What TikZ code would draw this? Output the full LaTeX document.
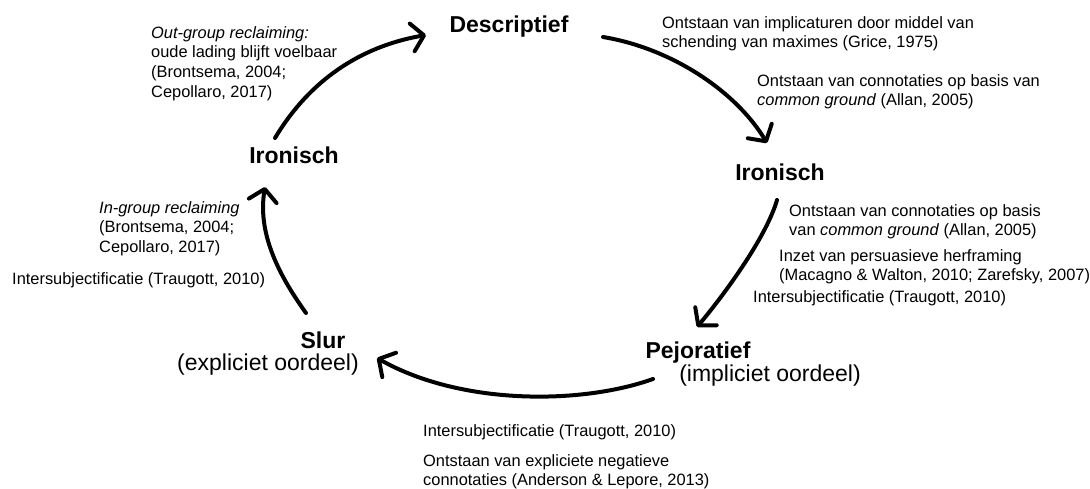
\documentclass[tikz,border=0pt]{standalone}
\usepackage{fontspec}
\setmainfont{Liberation Sans}
\usetikzlibrary{arrows.meta}
\begin{document}
\begin{tikzpicture}[x=1pt,y=-1pt,
  txt/.style={font=\fontsize{16.4}{19.7}\selectfont, align=left, anchor=north west, inner sep=0pt},
  lbl/.style={font=\fontsize{23}{27}\selectfont\bfseries, anchor=base, inner sep=0pt},
  sublbl/.style={font=\fontsize{23}{27}\selectfont, anchor=base, inner sep=0pt},
  arr/.style={line width=4pt, line cap=round, line join=round,
    -{Straight Barb[length=12pt,width=28pt,round]}}]
\useasboundingbox (0,0) rectangle (1090,488);

% main labels
\node[lbl] (desc) at (509,32) {Descriptief};
\node[lbl] (ironL) at (294,163) {Ironisch};
\node[lbl] (ironR) at (780,180) {Ironisch};
\node[lbl] (pej) at (698,358) {Pejoratief};
\node[sublbl] (pejsub) at (770,381) {(impliciet oordeel)};
\node[lbl] (slur) at (323,348) {Slur};
\node[sublbl] (slursub) at (268,370) {(expliciet oordeel)};

% annotations
\node[txt] (tOut) at (151,26) {\textit{Out-group reclaiming:}\\oude lading blijft voelbaar\\(Brontsema, 2004;\\Cepollaro, 2017)};
\node[txt] (tImp) at (662,16) {Ontstaan van implicaturen door middel van\\schending van maximes (Grice, 1975)};
\node[txt] (tCon1) at (757,74) {Ontstaan van connotaties op basis van\\\textit{common ground} (Allan, 2005)};
\node[txt] (tCon2) at (789,204) {Ontstaan van connotaties op basis\\van \textit{common ground} (Allan, 2005)};
\node[txt] (tInz) at (779,249) {Inzet van persuasieve herframing\\(Macagno \& Walton, 2010; Zarefsky, 2007)};
\node[txt] (tIntR) at (753,290) {Intersubjectificatie (Traugott, 2010)};
\node[txt] (tIntB) at (423,424) {Intersubjectificatie (Traugott, 2010)};
\node[txt] (tExp) at (423,454) {Ontstaan van expliciete negatieve\\connotaties (Anderson \& Lepore, 2013)};
\node[txt] (tIn) at (99,201) {\textit{In-group reclaiming}\\(Brontsema, 2004;\\Cepollaro, 2017)};
\node[txt] (tIntL) at (12,272) {Intersubjectificatie (Traugott, 2010)};

% arrow end points
\coordinate (a1s) at (275,138);
\coordinate (a1e) at (426,35);
\coordinate (a2s) at (603,37);
\coordinate (a2e) at (767,143);
\coordinate (a3s) at (777,200);
\coordinate (a3e) at (697,327);
\coordinate (a4s) at (653,379);
\coordinate (a4e) at (377,358);
\coordinate (a5s) at (306,313);
\coordinate (a5e) at (265,187);

\draw[arr] (a1s) .. controls (305,88) and (352,48) .. (a1e);
\draw[arr] (a2s) .. controls (670,48) and (735,90) .. (a2e);
\draw[arr] (a3s) .. controls (767,235) and (728,290) .. (a3e);
\draw[arr] (a4s) .. controls (580,405) and (460,405) .. (a4e);
\draw[arr] (a5s) .. controls (275,270) and (258,230) .. (a5e);
\end{tikzpicture}
\end{document}
